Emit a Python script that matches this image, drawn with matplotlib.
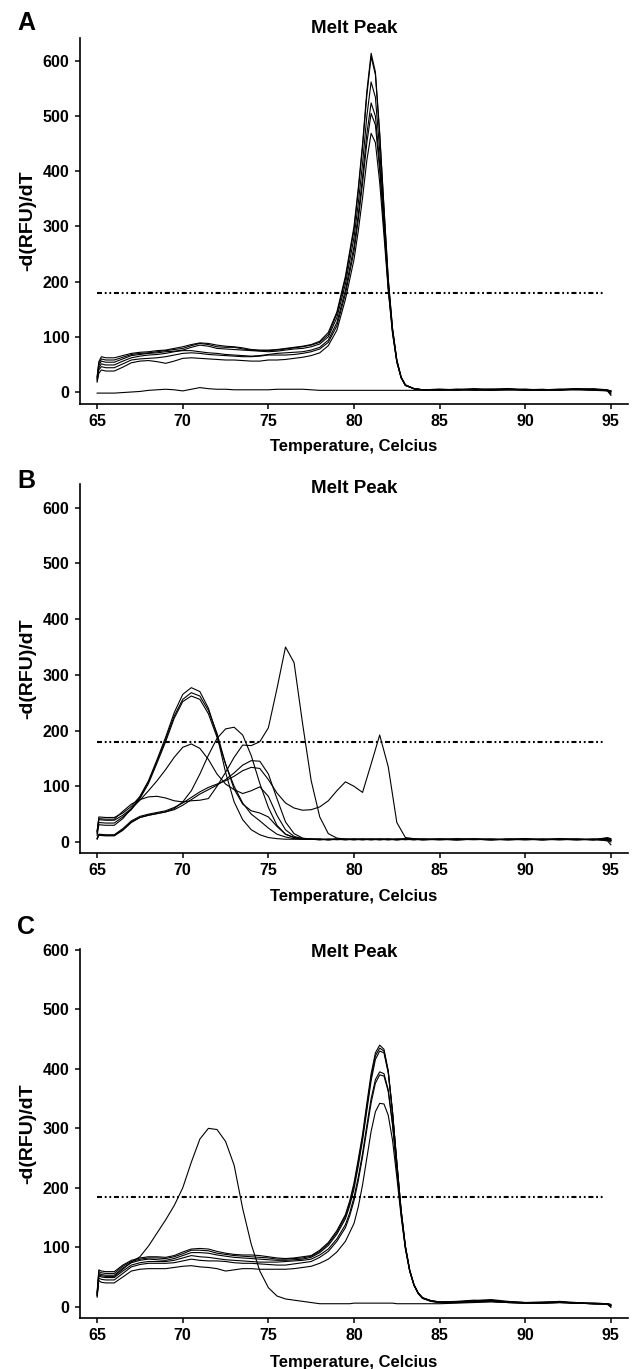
import matplotlib
matplotlib.use("Agg")
import matplotlib.pyplot as plt

plt.rcParams['font.family'] = ['Liberation Sans', 'DejaVu Sans']
plt.rcParams['font.weight'] = 'bold'
plt.rcParams['lines.scale_dashes'] = False

# ---------------- data ----------------
TITLE = "Melt Peak"
XLABEL = "Temperature, Celcius"
YLABEL = "-d(RFU)/dT"
X_TICKS = [65, 70, 75, 80, 85, 90, 95]
Y_TICKS = [0, 100, 200, 300, 400, 500, 600]
THRESH_X = [65.0, 94.6]

# Panel A
A_x = [65.0, 65.1, 65.25, 65.5, 66.0, 66.5, 67.0, 67.5, 68.0, 68.5, 69.0, 69.5, 70.0, 70.5,
       71.0, 71.5, 72.0, 72.5, 73.0, 73.5, 74.0, 74.5, 75.0, 75.5, 76.0, 76.5, 77.0,
       77.5, 78.0, 78.5, 79.0, 79.5,
       80.0, 80.25, 80.5, 80.75, 81.0, 81.25, 81.5, 81.75, 82.0, 82.25, 82.5, 82.75, 83.0,
       83.5, 84.0,
       85.0, 86.0, 87.0, 88.0, 89.0, 90.0, 91.0, 92.0, 93.0, 94.0, 94.8, 95.0]
A_1 = [28, 55, 64, 62, 62, 66, 70, 72, 73, 75, 76, 79, 82, 86, 89, 88, 85, 83, 82, 80, 77, 76, 76, 77, 79, 81, 83,
       86, 92, 108, 145, 210,
       300, 370, 450, 545, 614, 580, 470, 335, 205, 115, 58, 27, 13,
       6, 4,
       4, 5, 4, 5, 6, 4, 4, 5, 6, 4, 3, 1]
A_2 = [26, 52, 60, 58, 58, 63, 68, 70, 71, 73, 75, 77, 79, 84, 88, 86, 82, 81, 81, 78, 76, 75, 75, 76, 78, 80, 82,
       85, 90, 104, 142, 205,
       294, 364, 444, 538, 608, 575, 466, 333, 204, 115, 58, 27, 13,
       6, 4,
       3, 5, 5, 4, 5, 5, 3, 4, 6, 5, 2, -4]
A_3 = [24, 48, 56, 54, 54, 60, 66, 68, 70, 71, 73, 74, 76, 81, 85, 83, 79, 78, 77, 76, 75, 74, 73, 74, 76, 78, 79,
       82, 87, 100, 135, 196,
       280, 342, 414, 500, 562, 534, 438, 318, 198, 112, 57, 27, 12,
       6, 4,
       5, 4, 6, 5, 4, 4, 5, 3, 5, 6, 4, 2]
A_4 = [22, 44, 51, 49, 49, 56, 62, 65, 67, 68, 70, 73, 75, 75, 73, 71, 70, 68, 67, 66, 65, 66, 68, 70, 71, 72, 73,
       76, 81, 94, 126, 185,
       264, 322, 390, 468, 524, 500, 414, 304, 192, 110, 56, 26, 12,
       6, 4,
       4, 3, 5, 4, 6, 3, 4, 5, 4, 5, 3, 0]
A_5 = [20, 40, 46, 44, 44, 51, 58, 60, 61, 62, 64, 67, 70, 71, 70, 68, 67, 66, 65, 64, 64, 65, 67, 67, 67, 68, 70,
       73, 78, 90, 120, 178,
       255, 312, 378, 452, 505, 484, 402, 297, 189, 108, 55, 26, 12,
       6, 4,
       5, 4, 4, 5, 5, 4, 3, 4, 5, 4, 3, -2]
A_6 = [18, 34, 40, 38, 38, 45, 53, 56, 57, 55, 52, 56, 61, 62, 61, 60, 59, 58, 58, 57, 56, 56, 58, 58, 59, 61, 63,
       66, 71, 84, 112, 168,
       240, 292, 352, 420, 469, 452, 380, 284, 184, 106, 54, 26, 12,
       6, 4,
       4, 4, 5, 3, 4, 5, 4, 4, 5, 3, 2, -6]
A_7 = [-2, -2, -2, -2, -2, -1, 0, 1, 3, 4, 5, 4, 2, 5, 8, 6, 5, 5, 4, 4, 4, 4, 4, 5, 5, 5, 5,
       4, 3, 3, 3, 3,
       3, 3, 3, 3, 3, 3, 3, 3, 3, 3, 3, 3, 3,
       3, 3,
       3, 4, 3, 3, 4, 3, 3, 4, 4, 3, 3, 2]
A_threshold = 179

# Panel B
B_x = [65.0, 65.1, 65.5, 66.0, 66.5, 67.0, 67.5, 68.0, 68.5, 69.0, 69.5, 70.0, 70.5, 71.0,
       71.5, 72.0, 72.5, 73.0, 73.5, 74.0, 74.5, 75.0, 75.5, 76.0, 76.5, 77.0,
       77.5, 78.0, 78.5, 79.0, 79.5, 80.0, 80.5, 81.0, 81.5, 82.0, 82.5, 83.0, 83.5, 84.0,
       85.0, 86.0, 87.0, 88.0, 89.0, 90.0, 91.0, 92.0, 93.0, 94.0, 94.8, 95.0]
B_1 = [20, 45, 44, 44, 52, 64, 82, 110, 148, 188, 232, 265, 277, 270, 240, 192, 125, 72, 40, 22, 13, 8, 6, 5, 5, 5,
       5, 4, 5, 5, 4, 5, 5, 4, 5, 5, 4, 5, 5, 4,
       5, 4, 5, 4, 5, 6, 4, 5, 4, 5, 5, 3]
B_2 = [18, 40, 39, 39, 48, 60, 80, 108, 145, 184, 226, 256, 268, 262, 236, 195, 140, 95, 68, 56, 52, 45, 28, 14, 8, 6,
       5, 5, 4, 5, 5, 4, 5, 5, 5, 4, 5, 6, 5, 5,
       4, 5, 5, 4, 5, 5, 4, 6, 5, 4, 8, 6]
B_3 = [15, 35, 34, 34, 45, 58, 78, 105, 142, 180, 222, 252, 262, 256, 230, 188, 140, 100, 70, 50, 38, 25, 14, 9, 6, 5,
       5, 5, 5, 4, 5, 5, 4, 5, 5, 5, 4, 5, 5, 4,
       5, 5, 4, 5, 5, 4, 5, 5, 4, 5, 2, -5]
B_4 = [12, 31, 30, 30, 42, 60, 75, 92, 110, 130, 152, 170, 176, 168, 148, 122, 104, 94, 87, 92, 99, 82, 48, 22, 10, 6,
       5, 5, 4, 5, 5, 5, 4, 5, 5, 4, 5, 5, 4, 5,
       5, 4, 5, 5, 4, 5, 5, 4, 5, 5, 3, 0]
B_5 = [6, 13, 12, 12, 22, 36, 44, 48, 51, 54, 60, 72, 92, 122, 156, 186, 203, 206, 192, 155, 105, 62, 30, 14, 8, 5,
       5, 4, 5, 5, 4, 5, 5, 5, 4, 5, 5, 4, 5, 5,
       4, 5, 5, 4, 5, 4, 5, 5, 4, 5, 6, 4]
B_6 = [18, 42, 41, 41, 55, 68, 76, 81, 82, 79, 74, 72, 74, 75, 78, 100, 125, 152, 174, 173, 180, 205, 275, 350, 322, 212,
       110, 45, 15, 7, 5, 5, 5, 4, 5, 5, 4, 5, 5, 4,
       5, 4, 5, 5, 4, 5, 5, 4, 5, 4, 5, 3]
B_7 = [7, 14, 13, 13, 24, 38, 46, 50, 53, 56, 62, 70, 80, 90, 98, 104, 110, 118, 128, 134, 132, 112, 88, 70, 61, 57,
       58, 63, 74, 92, 108, 100, 89, 140, 192, 135, 35, 8, 6, 5,
       5, 6, 5, 4, 5, 5, 4, 5, 5, 4, 6, 5]
B_8 = [5, 12, 11, 11, 21, 35, 44, 48, 51, 54, 58, 66, 76, 86, 94, 102, 112, 124, 138, 146, 145, 122, 78, 36, 15, 7,
       5, 5, 4, 5, 5, 4, 5, 5, 4, 5, 5, 5, 4, 5,
       5, 4, 5, 5, 4, 5, 4, 5, 5, 4, 4, 2]
B_threshold = 179.5

# Panel C
C_x = [65.0, 65.1, 65.25, 65.5, 66.0, 66.5, 67.0, 67.5, 68.0, 68.5, 69.0, 69.5, 70.0, 70.5,
       71.0, 71.5, 72.0, 72.5, 73.0, 73.5, 74.0, 74.5, 75.0, 75.5, 76.0, 76.5, 77.0,
       77.5, 78.0, 78.5, 79.0, 79.5, 79.75, 80.0, 80.25, 80.5, 80.75, 81.0, 81.25, 81.5,
       81.75, 82.0, 82.25, 82.5, 82.75, 83.0, 83.25, 83.5, 83.75, 84.0, 84.5, 85.0,
       86.0, 87.0, 88.0, 89.0, 90.0, 91.0, 92.0, 93.0, 94.0, 94.8, 95.0]
C_1 = [25, 62, 60, 59, 59, 70, 78, 82, 84, 84, 83, 86, 92, 97, 98, 97, 93, 90, 88, 87, 87, 86, 84, 82, 81, 82, 84,
       86, 95, 108, 128, 155, 178, 208, 248, 290, 342, 392, 427, 440, 433, 397, 328, 243, 163, 102, 62, 37, 23, 15, 10, 8,
       8, 10, 11, 8, 7, 7, 8, 6, 6, 5, 4]
C_2 = [23, 59, 57, 56, 56, 68, 76, 80, 82, 82, 81, 84, 89, 95, 95, 94, 90, 88, 86, 85, 84, 83, 82, 80, 80, 81, 82,
       85, 93, 106, 125, 152, 174, 204, 243, 285, 336, 386, 422, 435, 430, 395, 327, 243, 163, 102, 62, 37, 23, 15, 10, 8,
       9, 11, 10, 8, 7, 8, 8, 6, 5, 4, 2]
C_3 = [21, 56, 54, 53, 53, 65, 74, 78, 80, 79, 78, 81, 86, 91, 91, 90, 87, 85, 83, 82, 81, 80, 79, 78, 78, 79, 80,
       83, 91, 103, 122, 148, 170, 198, 237, 280, 330, 380, 416, 430, 427, 393, 326, 242, 162, 101, 61, 37, 23, 15, 10, 8,
       8, 10, 12, 9, 7, 7, 9, 7, 6, 5, 3]
C_4 = [19, 52, 50, 49, 49, 60, 70, 74, 76, 76, 76, 78, 82, 86, 84, 83, 81, 79, 78, 77, 76, 75, 75, 75, 76, 77, 78,
       80, 87, 97, 114, 138, 158, 184, 218, 258, 305, 350, 382, 395, 392, 365, 308, 232, 158, 100, 61, 37, 23, 15, 10, 7,
       8, 9, 10, 8, 6, 7, 8, 6, 5, 4, 0]
C_5 = [18, 48, 46, 45, 45, 56, 67, 71, 73, 73, 73, 74, 77, 80, 78, 77, 77, 76, 74, 73, 73, 72, 71, 70, 70, 72, 74,
       76, 83, 93, 110, 133, 153, 178, 212, 252, 298, 343, 376, 390, 388, 362, 306, 231, 157, 99, 60, 36, 22, 14, 9, 7,
       7, 9, 9, 7, 6, 6, 7, 6, 5, 5, 2]
C_6 = [16, 44, 41, 40, 40, 50, 60, 63, 64, 64, 64, 66, 68, 69, 67, 66, 64, 60, 62, 64, 64, 63, 63, 63, 63, 64, 66,
       68, 73, 80, 92, 110, 125, 140, 168, 205, 250, 295, 328, 342, 341, 322, 280, 218, 152, 97, 60, 36, 22, 14, 9, 7,
       7, 8, 9, 7, 6, 6, 7, 6, 5, 4, -1]
C_7 = [20, 54, 52, 51, 51, 63, 75, 84, 102, 124, 146, 170, 200, 243, 282, 300, 298, 278, 238, 165, 105, 60, 32, 18, 13, 11, 9,
       7, 5, 5, 5, 5, 5, 6, 6, 6, 6, 6, 6, 6, 6, 6, 6, 5, 5, 5, 5, 5, 5, 5, 5, 5,
       6, 7, 8, 7, 6, 6, 7, 6, 5, 5, 3]
C_threshold = 184

# ---------------- layout (pixels of the 638 x 1369 picture) ----------------
W, H = 638, 1369
AX_LEFT, AX_RIGHT = 80, 628
X_LIM = (64.0, 96.0)

panels = [
    dict(letter="A", x=A_x, curves=[A_1, A_2, A_3, A_4, A_5, A_6, A_7], thr=A_threshold,
         top=38, bottom=404, y0=392.0, y600=61.0, title_base=33, xlabel_base=450.5, letter_base=30),
    dict(letter="B", x=B_x, curves=[B_1, B_2, B_3, B_4, B_5, B_6, B_7, B_8], thr=B_threshold,
         top=484, bottom=853, y0=842.0, y600=507.7, title_base=493, xlabel_base=900.5, letter_base=488),
    dict(letter="C", x=C_x, curves=[C_1, C_2, C_3, C_4, C_5, C_6, C_7], thr=C_threshold,
         top=949, bottom=1318, y0=1306.7, y600=950.0, title_base=957, xlabel_base=1367, letter_base=934),
]

fig = plt.figure(figsize=(W / 100, H / 100), dpi=100)
fig.patch.set_facecolor("white")


def fx(px):
    return px / W


def fy(py):
    return 1 - py / H


for p in panels:
    for c in p["curves"]:
        assert len(c) == len(p["x"]), (p["letter"], len(c), len(p["x"]))
    ax = fig.add_axes([fx(AX_LEFT), fy(p["bottom"]), (AX_RIGHT - AX_LEFT) / W, (p["bottom"] - p["top"]) / H])
    upp = 600.0 / (p["y0"] - p["y600"])
    ax.set_ylim((p["y0"] - p["bottom"]) * upp, (p["y0"] - p["top"]) * upp)
    ax.set_xlim(*X_LIM)
    for c in p["curves"]:
        ax.plot(p["x"], c, color="black", lw=0.8, solid_joinstyle="round")
    ax.plot(THRESH_X, [p["thr"], p["thr"]], color="black", lw=1.5,
            linestyle=(0, (3.6, 2.0, 1.3, 2.0, 1.3, 2.0)))
    for s in ("top", "right"):
        ax.spines[s].set_visible(False)
    for s in ("left", "bottom"):
        ax.spines[s].set_linewidth(1.2)
    ax.set_xticks(X_TICKS)
    ax.set_yticks(Y_TICKS)
    ax.tick_params(direction="out", length=3.5, width=1.1, labelsize=11.5, pad=4)
    for lab in ax.get_xticklabels() + ax.get_yticklabels():
        lab.set_fontweight("bold")
    xc = (AX_LEFT + AX_RIGHT) / 2
    fig.text(fx(xc), fy(p["title_base"]), TITLE, ha="center", va="baseline",
             fontsize=13.5, fontweight="bold")
    fig.text(fx(xc), fy(p["xlabel_base"]), XLABEL, ha="center", va="baseline",
             fontsize=12, fontweight="bold")
    fig.text(fx(28), fy((p["top"] + p["bottom"]) / 2), YLABEL, ha="center", va="center",
             rotation=90, fontsize=14, fontweight="bold")
    fig.text(fx(17), fy(p["letter_base"]), p["letter"], ha="left", va="baseline",
             fontsize=18, fontweight="bold")

fig.savefig("out.png", dpi=100, facecolor="white")
